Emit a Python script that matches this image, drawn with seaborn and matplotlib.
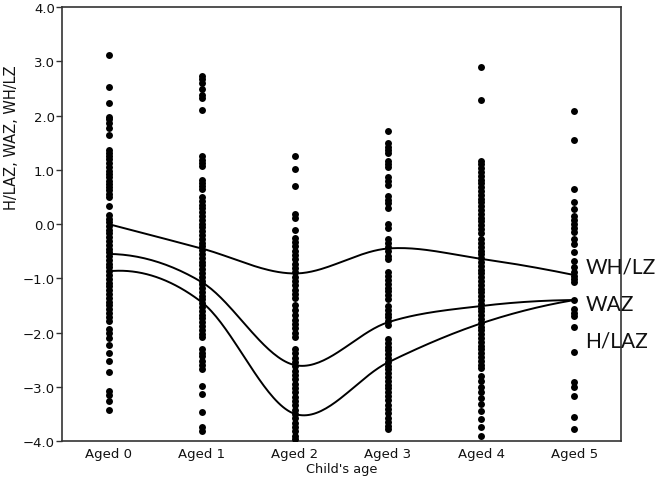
import numpy as np
import pandas as pd
import seaborn as sns
import matplotlib.pyplot as plt

ages = ['Aged 0', 'Aged 1', 'Aged 2', 'Aged 3', 'Aged 4', 'Aged 5']

# individual z-scores, one list per age group
z_age0 = [3.12, 2.52, 2.23, 1.98, 1.93, 1.87, 1.78, 1.65, 1.36, 1.31, 1.26, 1.20, 1.12, 1.05,
          0.98, 0.92, 0.86, 0.80, 0.74, 0.68, 0.62, 0.56, 0.50, 0.33, 0.17, 0.10, 0.04, -0.03,
          -0.10, -0.17, -0.24, -0.31, -0.38, -0.45, -0.52, -0.59, -0.66, -0.73, -0.80, -0.87,
          -0.94, -1.01, -1.08, -1.15, -1.22, -1.29, -1.36, -1.43, -1.50, -1.57, -1.64, -1.71,
          -1.78, -1.93, -2.00, -2.10, -2.22, -2.37, -2.53, -2.72, -3.07, -3.15, -3.27, -3.42]
z_age1 = [2.74, 2.68, 2.61, 2.50, 2.38, 2.33, 2.10, 1.25, 1.19, 1.13, 1.07, 0.82, 0.76, 0.70,
          0.65, 0.50, 0.43, 0.36, 0.29, 0.22, 0.15, 0.08, 0.01, -0.06, -0.13, -0.20, -0.27,
          -0.34, -0.41, -0.48, -0.55, -0.62, -0.69, -0.76, -0.83, -0.90, -0.97, -1.04, -1.11,
          -1.18, -1.25, -1.32, -1.39, -1.46, -1.53, -1.60, -1.67, -1.74, -1.81, -1.88, -1.95,
          -2.02, -2.09, -2.30, -2.37, -2.44, -2.52, -2.60, -2.68, -2.98, -3.13, -3.47, -3.74, -3.82]
z_age2 = [1.26, 1.02, 0.70, 0.19, 0.12, -0.10, -0.25, -0.33, -0.41, -0.49, -0.57, -0.65, -0.73,
          -0.81, -0.89, -0.97, -1.05, -1.13, -1.21, -1.29, -1.37, -1.50, -1.58, -1.68, -1.76,
          -1.84, -1.92, -2.00, -2.08, -2.30, -2.38, -2.46, -2.54, -2.62, -2.70, -2.78, -2.86,
          -2.94, -3.02, -3.10, -3.18, -3.26, -3.34, -3.42, -3.50, -3.58, -3.66, -3.74, -3.82,
          -3.90, -3.96]
z_age3 = [1.71, 1.49, 1.43, 1.37, 1.32, 1.17, 1.11, 1.05, 0.87, 0.80, 0.73, 0.52, 0.45, 0.38,
          0.30, 0.01, -0.08, -0.28, -0.35, -0.42, -0.50, -0.58, -0.65, -0.89, -0.96, -1.03,
          -1.10, -1.17, -1.24, -1.31, -1.38, -1.51, -1.58, -1.65, -1.72, -1.79, -1.86, -2.12,
          -2.19, -2.26, -2.33, -2.40, -2.47, -2.54, -2.61, -2.68, -2.75, -2.82, -2.89, -2.96,
          -3.03, -3.10, -3.17, -3.25, -3.33, -3.41, -3.49, -3.57, -3.65, -3.72, -3.78]
z_age4 = [2.89, 2.28, 1.17, 1.10, 1.03, 0.96, 0.89, 0.82, 0.75, 0.68, 0.61, 0.54, 0.47, 0.40,
          0.33, 0.26, 0.19, 0.12, 0.05, -0.02, -0.09, -0.16, -0.28, -0.35, -0.42, -0.49, -0.56,
          -0.63, -0.70, -0.77, -0.84, -0.91, -0.98, -1.05, -1.12, -1.19, -1.26, -1.33, -1.40,
          -1.47, -1.54, -1.61, -1.68, -1.75, -1.82, -1.89, -1.96, -2.03, -2.10, -2.17, -2.24,
          -2.31, -2.38, -2.45, -2.52, -2.59, -2.66, -2.80, -2.90, -3.00, -3.10, -3.20, -3.32,
          -3.45, -3.60, -3.75, -3.90]
z_age5 = [2.09, 1.55, 0.65, 0.41, 0.28, 0.15, 0.08, 0.01, -0.07, -0.15, -0.28, -0.36, -0.52,
          -0.68, -0.80, -0.88, -0.95, -1.02, -1.07, -1.40, -1.56, -1.63, -1.70, -1.90, -2.36,
          -2.91, -3.00, -3.17, -3.56, -3.78]

# mean curves
whlz = [0.00, -0.45, -0.91, -0.45, -0.64, -0.94]
waz = [-0.55, -1.07, -2.60, -1.81, -1.51, -1.40]
hlaz = [-0.87, -1.44, -3.50, -2.55, -1.83, -1.40]
curve_names = ['WH/LZ', 'WAZ', 'H/LAZ']

rows = []
for a, vals in zip(ages, [z_age0, z_age1, z_age2, z_age3, z_age4, z_age5]):
    for v in vals:
        rows.append({'age': a, 'z': v})
df = pd.DataFrame(rows)

sns.set_style('white')
fig, ax = plt.subplots(figsize=(6.56, 4.81), dpi=100)
fig.subplots_adjust(left=0.0945, right=0.9466, bottom=0.081, top=0.983)

sns.stripplot(data=df, x='age', y='z', order=ages, jitter=False, color='black',
              size=5, linewidth=0, ax=ax)


def smooth(y, n=40):
    # smoothed line (Catmull-Rom style, like a spreadsheet "smoothed line")
    y = np.asarray(y, float)
    k = len(y)
    m = np.zeros(k)
    m[1:-1] = (y[2:] - y[:-2]) / 2
    m[0] = 2 * (y[1] - y[0]) - m[1]
    m[-1] = 2 * (y[-1] - y[-2]) - m[-2]
    xs, ys = [], []
    t = np.linspace(0, 1, n)
    for i in range(k - 1):
        h00 = 2 * t**3 - 3 * t**2 + 1
        h10 = t**3 - 2 * t**2 + t
        h01 = -2 * t**3 + 3 * t**2
        h11 = t**3 - t**2
        xs.append(i + t)
        ys.append(h00 * y[i] + h10 * m[i] + h01 * y[i + 1] + h11 * m[i + 1])
    return np.concatenate(xs), np.concatenate(ys)


for vals in [whlz, waz, hlaz]:
    xs, ys = smooth(vals)
    ax.plot(xs, ys, color='black', lw=1.4)

label_y = [-0.79, -1.47, -2.15]
for name, yy in zip(curve_names, label_y):
    ax.text(5.12, yy, name, fontsize=15, family='Lato', va='center', ha='left',
            color='#111111', clip_on=False)

ax.set_xlim(-0.5, 5.5)
ax.set_ylim(-4, 4)
ax.set_yticks(np.arange(-4, 4.1, 1))
ax.set_yticklabels([f'{v:.1f}'.replace('-', '\u2212') for v in np.arange(-4, 4.1, 1)])
ax.tick_params(axis='y', length=4, width=1, labelsize=9.5, color='#333333', left=True, pad=1,
               labelcolor='#111111')
ax.tick_params(axis='x', length=0, labelsize=9.5, pad=4, labelcolor='#111111')
for s in ax.spines.values():
    s.set_visible(True)
    s.set_color('#333333')
    s.set_linewidth(1.2)
ax.set_xlabel("Child's age", fontsize=9.3, labelpad=2, color='#111111')
ax.set_ylabel('')
fig.text(12 / 656, 1 - 138 / 481, 'H/LAZ, WAZ, WH/LZ', rotation=90, fontsize=10.5,
         ha='center', va='center', color='#111111')

plt.savefig('out.png', dpi=100)
